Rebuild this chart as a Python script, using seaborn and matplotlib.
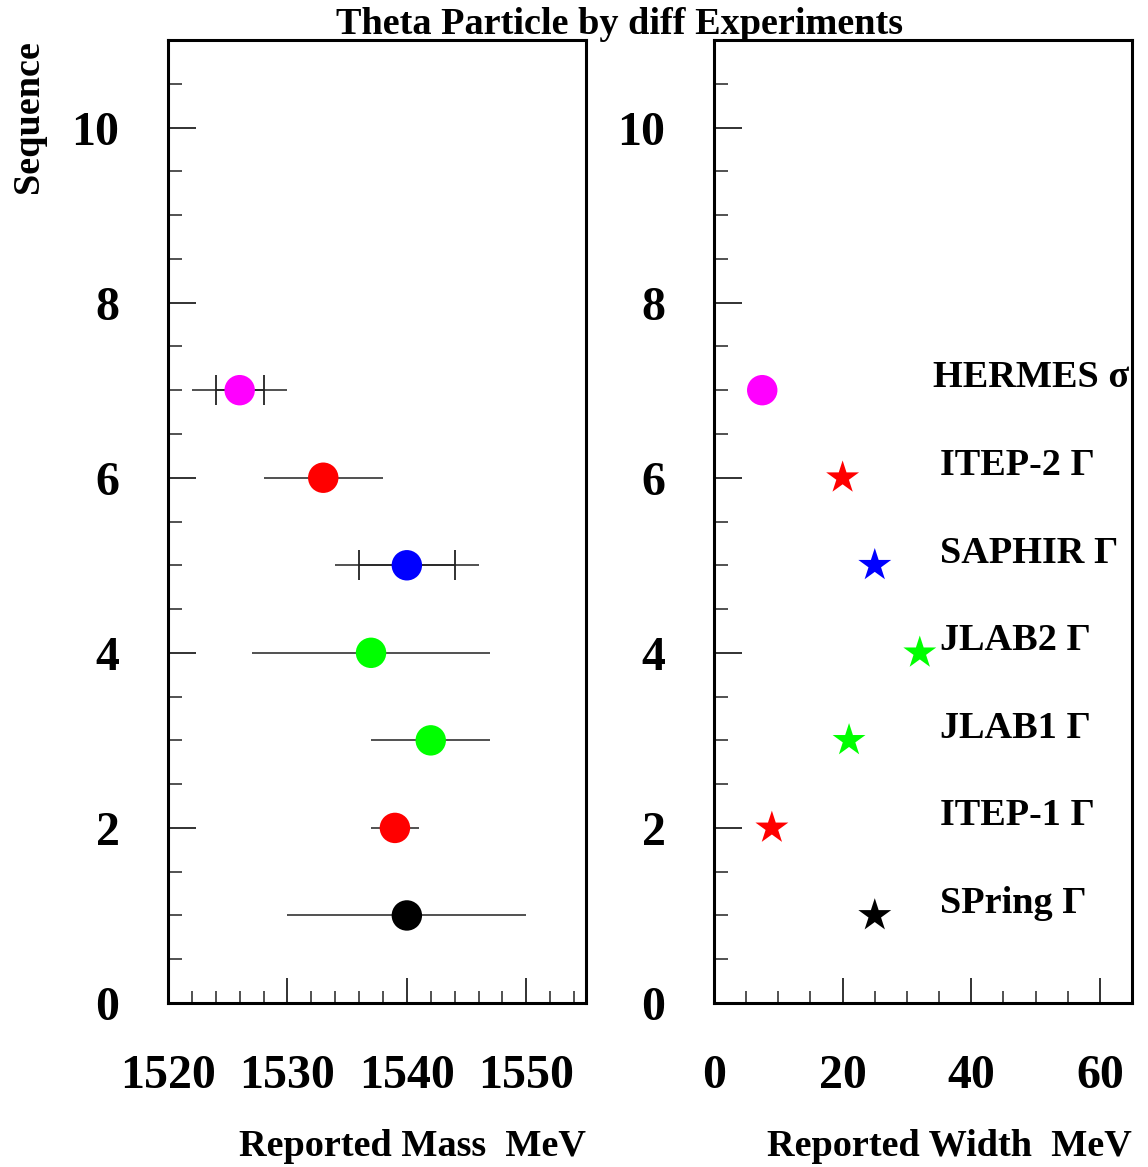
import matplotlib
matplotlib.use("Agg")
import matplotlib.pyplot as plt
import seaborn as sns
import pandas as pd
from matplotlib.ticker import MultipleLocator

sns.set_theme(style="white")
plt.rcParams['font.family'] = ['Liberation Serif', 'DejaVu Serif']
plt.rcParams['font.weight'] = 'bold'
plt.rcParams['text.color'] = 'black'
plt.rcParams['xtick.color'] = 'black'
plt.rcParams['ytick.color'] = 'black'
plt.rcParams['axes.labelcolor'] = 'black'

# ---- data ----
sequence = [1, 2, 3, 4, 5, 6, 7]
mass = [1540, 1539, 1542, 1537, 1540, 1533, 1526]
mass_err = [10, 2, 5, 10, 6, 5, 4]
mass_inner_err = [0, 0, 0, 0, 4, 0, 2]
width = [25, 9, 21, 32, 25, 20, 7.5]
experiments = ['SPring \u0393', 'ITEP-1 \u0393', 'JLAB1 \u0393', 'JLAB2 \u0393',
               'SAPHIR \u0393', 'ITEP-2 \u0393', 'HERMES \u03c3']
colors = ['#000000', '#ff0000', '#00ff00', '#00ff00', '#0000ff', '#ff0000', '#ff00ff']
width_markers = ['*', '*', '*', '*', '*', '*', 'o']

df = pd.DataFrame({'seq': sequence, 'mass': mass, 'err': mass_err,
                   'inner': mass_inner_err, 'width': width,
                   'exp': experiments, 'color': colors, 'wm': width_markers})

W, H = 1148, 1167
fig = plt.figure(figsize=(W / 100, H / 100), dpi=100)
ax1 = fig.add_axes([168 / W, 1 - 1003 / H, 418 / W, 963 / H])
ax2 = fig.add_axes([714 / W, 1 - 1003 / H, 418 / W, 963 / H])

palette = dict(zip(df['exp'], df['color']))

# left panel: mass with error bars
for _, r in df.iterrows():
    ax1.errorbar(r['mass'], r['seq'], xerr=r['err'], fmt='none',
                 ecolor='#222222', elinewidth=1.1, capsize=0, zorder=2)
    if r['inner'] > 0:
        ax1.errorbar(r['mass'], r['seq'], xerr=r['inner'], fmt='none',
                     ecolor='#222222', elinewidth=1.1, capsize=10.5,
                     capthick=1.3, zorder=2)
sns.scatterplot(data=df, x='mass', y='seq', hue='exp', palette=palette,
                s=480, marker='o', edgecolor='none', legend=False, ax=ax1, zorder=3)

# right panel: width
for m in ['o', '*']:
    sub = df[df['wm'] == m]
    sns.scatterplot(data=sub, x='width', y='seq', hue='exp', palette=palette,
                    s=480 if m == 'o' else 620, marker=m, edgecolor='none',
                    legend=False, ax=ax2, zorder=3)
for _, r in df.iterrows():
    xoff = 34.1 if r['exp'].startswith('HERMES') else 35.2
    ax2.text(xoff, r['seq'] + 0.14, r['exp'], fontsize=27.5, fontweight='bold',
             va='center', ha='left', color='black')

ax1.set_xlim(1520, 1555)
ax2.set_xlim(0, 65)
ax1.xaxis.set_major_locator(MultipleLocator(10))
ax1.xaxis.set_minor_locator(MultipleLocator(2))
ax2.xaxis.set_major_locator(MultipleLocator(20))
ax2.xaxis.set_minor_locator(MultipleLocator(5))
for ax in (ax1, ax2):
    ax.set_ylim(0, 11)
    ax.yaxis.set_major_locator(MultipleLocator(2))
    ax.yaxis.set_minor_locator(MultipleLocator(0.5))
    ax.tick_params(axis='both', which='both', direction='in', top=False,
                   right=False, left=True, bottom=True, color='#222222',
                   labelcolor='black')
    ax.tick_params(axis='y', which='major', length=20, width=1.3, pad=35, labelsize=34.5)
    ax.tick_params(axis='y', which='minor', length=10, width=1.1)
    ax.tick_params(axis='x', which='major', length=18, width=1.3, pad=37, labelsize=34.5)
    ax.tick_params(axis='x', which='minor', length=9, width=1.1)
    for s in ax.spines.values():
        s.set_linewidth(2.2)
        s.set_color('black')
        s.set_visible(True)
    ax.set_xlabel('')
    ax.set_ylabel('')
    for lbl in ax.get_xticklabels() + ax.get_yticklabels():
        lbl.set_fontweight('bold')

fig.text(586 / W, 1 - 1147 / H, 'Reported Mass  MeV', ha='right', va='center',
         fontsize=27.5, fontweight='bold', color='black')
fig.text(1132 / W, 1 - 1147 / H, 'Reported Width  MeV', ha='right', va='center',
         fontsize=27.5, fontweight='bold', color='black')
fig.text(619 / W, 1 - 24 / H, 'Theta Particle by diff Experiments', ha='center',
         va='center', fontsize=27.5, fontweight='bold', color='black')
fig.text(29 / W, 1 - 40 / H, 'Sequence', ha='center', va='top', rotation=90,
         fontsize=27.5, fontweight='bold', color='black')

fig.savefig('out.png', dpi=100, facecolor='white')
